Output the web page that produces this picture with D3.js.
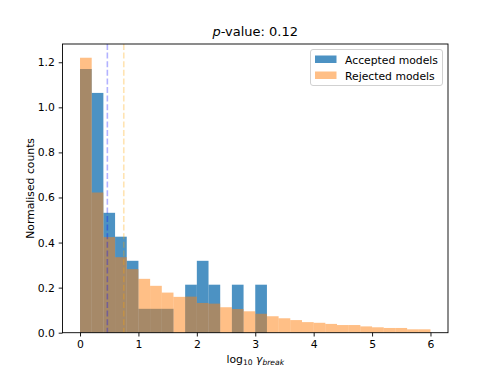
<!DOCTYPE html>
<html>
<head>
<meta charset="utf-8">
<script src="https://cdn.jsdelivr.net/npm/d3@7"></script>
<style>
  body { margin: 0; background: #fff; }
  svg { font-family: "DejaVu Sans", sans-serif; }
</style>
</head>
<body>
<div id="chart"></div>
<script>
// histogram bin edges (log10 gamma_break)
const binEdges = [0, 0.2, 0.4, 0.6, 0.8, 1.0, 1.2, 1.4, 1.6, 1.8, 2.0, 2.2, 2.4, 2.6, 2.8, 3.0,
  3.2, 3.4, 3.6, 3.8, 4.0, 4.2, 4.4, 4.6, 4.8, 5.0, 5.2, 5.4, 5.6, 5.8, 6.0];

const accepted = [1.170, 1.064, 0.532, 0.426, 0.319, 0.106, 0.106, 0.106, 0, 0.213,
  0.319, 0.213, 0, 0.213, 0, 0.213, 0, 0, 0, 0, 0, 0, 0, 0, 0, 0, 0, 0, 0, 0];

const rejected = [1.220, 0.622, 0.424, 0.335, 0.282, 0.239, 0.208, 0.178, 0.159, 0.160,
  0.132, 0.129, 0.113, 0.105, 0.095, 0.084, 0.073, 0.064, 0.056, 0.047,
  0.044, 0.039, 0.034, 0.034, 0.028, 0.024, 0.021, 0.021, 0.015, 0.015];

const medianAccepted = 0.468;
const medianRejected = 0.749;

const xTicks = [0, 1, 2, 3, 4, 5, 6];
const yTicks = [0.0, 0.2, 0.4, 0.6, 0.8, 1.0, 1.2];

const W = 498, H = 374;
const margin = {top: 44, right: 50, bottom: 41.3, left: 62.5};
const width = W - margin.left - margin.right;
const height = H - margin.top - margin.bottom;

const svg = d3.select("#chart").append("svg")
  .attr("width", W)
  .attr("height", H);

const g = svg.append("g")
  .attr("transform", `translate(${margin.left}, ${margin.top})`);

const x = d3.scaleLinear().domain([-0.3, 6.3]).range([0, width]);
const y = d3.scaleLinear().domain([0, 1.281]).range([height, 0]);

function bars(values, cls, fill, opacity) {
  g.selectAll("." + cls)
    .data(values.map((v, i) => ({x0: binEdges[i], x1: binEdges[i + 1], v})).filter(d => d.v > 0))
    .enter().append("rect")
      .attr("class", cls)
      .attr("x", d => x(d.x0))
      .attr("width", d => x(d.x1) - x(d.x0))
      .attr("y", d => y(d.v))
      .attr("height", d => y(0) - y(d.v))
      .attr("fill", fill)
      .attr("fill-opacity", opacity);
}

bars(accepted, "acc", "#1f77b4", 0.8);
bars(rejected, "rej", "#ff7f0e", 0.5);

// median lines
[[medianAccepted, "#0000ff"], [medianRejected, "#ffa500"]].forEach(([m, c]) => {
  g.append("line")
    .attr("x1", x(m)).attr("x2", x(m))
    .attr("y1", 0).attr("y2", height)
    .attr("stroke", c)
    .attr("stroke-opacity", 0.3)
    .attr("stroke-width", 1.6)
    .attr("stroke-dasharray", "6,2.6");
});

// axes
const xAxis = g.append("g")
  .attr("transform", `translate(0, ${height})`)
  .call(d3.axisBottom(x).tickValues(xTicks).tickFormat(d3.format("d")).tickSize(3.8).tickPadding(3.8));

const yAxis = g.append("g")
  .call(d3.axisLeft(y).tickValues(yTicks).tickFormat(d3.format(".1f")).tickSize(3.8).tickPadding(3.8));

[xAxis, yAxis].forEach(a => {
  a.select(".domain").remove();
  a.selectAll("line").attr("stroke", "#000").attr("stroke-width", 0.9);
  a.selectAll("text").attr("font-size", "10.8px").attr("fill", "#000")
    .attr("font-family", "DejaVu Sans, sans-serif");
});

// frame
g.append("rect")
  .attr("width", width).attr("height", height)
  .attr("fill", "none").attr("stroke", "#000").attr("stroke-width", 0.9);

// title
const title = svg.append("text")
  .attr("x", margin.left + width / 2)
  .attr("y", margin.top - 8)
  .attr("text-anchor", "middle")
  .attr("font-size", "13px");
title.append("tspan").attr("font-style", "italic").text("p");
title.append("tspan").text("-value: 0.12");

// y label
svg.append("text")
  .attr("transform", `translate(34, ${margin.top + height / 2}) rotate(-90)`)
  .attr("text-anchor", "middle")
  .attr("font-size", "10.8px")
  .text("Normalised counts");

// x label
const xl = svg.append("text")
  .attr("x", margin.left + width / 2)
  .attr("y", 363)
  .attr("text-anchor", "middle")
  .attr("font-size", "10.8px");
xl.append("tspan").text("log");
xl.append("tspan").attr("font-size", "7.6px").attr("dy", 2).text("10");
xl.append("tspan").attr("dy", -2).text(" ");
xl.append("tspan").attr("font-style", "italic").text("γ");
xl.append("tspan").attr("font-style", "italic").attr("font-size", "7.6px").attr("dy", 2).text("break");

// legend
const lg = svg.append("g").attr("transform", "translate(310.5, 49.5)");
lg.append("rect")
  .attr("width", 132).attr("height", 36).attr("rx", 2.5)
  .attr("fill", "#fff").attr("fill-opacity", 0.8)
  .attr("stroke", "#ccc").attr("stroke-width", 0.9);
[["Accepted models", "#1f77b4", 0.8], ["Rejected models", "#ff7f0e", 0.5]].forEach(([t, c, o], i) => {
  lg.append("rect")
    .attr("x", 4.5).attr("y", 6 + i * 16)
    .attr("width", 21.5).attr("height", 7.5)
    .attr("fill", c).attr("fill-opacity", o);
  lg.append("text")
    .attr("x", 34.5).attr("y", 14 + i * 16)
    .attr("font-size", "10.8px")
    .text(t);
});
</script>
</body>
</html>
